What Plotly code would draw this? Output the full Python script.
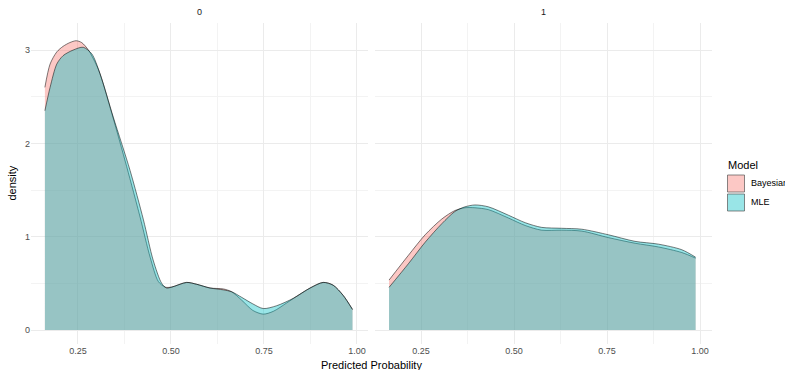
import plotly.graph_objects as go
from plotly.subplots import make_subplots

# ---- data ----
facets = ["0", "1"]
models = ["Bayesian", "MLE"]

x0_bayes = [0.161,0.175,0.193,0.210,0.228,0.245,0.260,0.278,0.305,0.341,0.381,0.417,0.444,0.466,0.484,0.502,0.542,0.569,0.605,0.641,0.663,0.690,0.720,0.748,0.775,0.811,0.845,0.874,0.909,0.936,0.963,0.988]
d0_bayes = [2.60,2.85,2.98,3.04,3.08,3.10,3.08,3.00,2.79,2.32,1.75,1.21,0.78,0.52,0.46,0.46,0.51,0.49,0.45,0.44,0.41,0.32,0.21,0.17,0.20,0.29,0.38,0.45,0.51,0.48,0.37,0.22]

x0_mle = [0.161,0.175,0.193,0.210,0.237,0.264,0.287,0.309,0.345,0.390,0.426,0.452,0.475,0.488,0.502,0.542,0.569,0.605,0.641,0.663,0.690,0.720,0.748,0.784,0.829,0.874,0.909,0.936,0.963,0.988]
d0_mle = [2.35,2.60,2.85,2.94,3.00,3.03,2.96,2.75,2.28,1.71,1.18,0.75,0.50,0.45,0.46,0.51,0.49,0.45,0.43,0.41,0.35,0.28,0.23,0.26,0.34,0.45,0.51,0.48,0.37,0.22]

x1_bayes = [0.164,0.216,0.261,0.306,0.341,0.368,0.395,0.431,0.485,0.530,0.574,0.628,0.682,0.754,0.825,0.888,0.951,0.988]
d1_bayes = [0.535,0.80,1.02,1.19,1.28,1.31,1.31,1.29,1.20,1.12,1.07,1.07,1.06,0.99,0.93,0.89,0.83,0.77]

x1_mle = [0.164,0.216,0.261,0.306,0.341,0.368,0.395,0.431,0.485,0.530,0.574,0.628,0.682,0.754,0.825,0.888,0.951,0.988]
d1_mle = [0.457,0.71,0.94,1.14,1.27,1.32,1.34,1.32,1.23,1.15,1.10,1.09,1.08,1.02,0.95,0.92,0.86,0.78]

x_ticks = [0.25, 0.50, 0.75, 1.00]
x_ticklabels = ["0.25", "0.50", "0.75", "1.00"]
y_ticks = [0, 1, 2, 3]

# ---- styling ----
W, H = 785, 370
FONT = "Liberation Sans, Arial, sans-serif"
fills = {"Bayesian": "rgba(248,118,109,0.4)", "MLE": "rgba(0,191,196,0.4)"}

series = {
    (0, "Bayesian"): (x0_bayes, d0_bayes),
    (0, "MLE"): (x0_mle, d0_mle),
    (1, "Bayesian"): (x1_bayes, d1_bayes),
    (1, "MLE"): (x1_mle, d1_mle),
}

fig = make_subplots(rows=1, cols=2, shared_yaxes=True, horizontal_spacing=0.01)

for p in range(2):
    for m in models:
        xs, ds = series[(p, m)]
        fig.add_trace(go.Scatter(
            x=xs, y=ds, mode="lines", fill="tozeroy", fillcolor=fills[m],
            line=dict(color="rgba(0,0,0,0.85)", width=0.6, shape="spline", smoothing=0.8),
            name=m, showlegend=False, hoverinfo="skip"), row=1, col=p + 1)

def px_x(v):
    return v / W

def px_y(v):
    return 1 - v / H

ydom = [px_y(344), px_y(23)]
fig.update_layout(
    width=W, height=H, margin=dict(l=0, r=0, t=0, b=0),
    paper_bgcolor="white", plot_bgcolor="white",
    font=dict(family=FONT, size=9, color="#4D4D4D"),
    xaxis=dict(domain=[px_x(31), px_x(368)], range=[0.1237, 1.0296]),
    xaxis2=dict(domain=[px_x(375), px_x(712)], range=[0.1263, 1.032]),
    yaxis=dict(domain=ydom, range=[-0.150, 3.29]),
    yaxis2=dict(domain=ydom, range=[-0.150, 3.29]),
)

for ax in ["xaxis", "xaxis2"]:
    fig.layout[ax].update(
        tickvals=x_ticks, ticktext=x_ticklabels, showgrid=True, gridcolor="#EBEBEB", gridwidth=1,
        zeroline=False, showline=False, ticks="",
        tickfont=dict(size=9, color="#4D4D4D"),
        minor=dict(tickvals=[0.125, 0.375, 0.625, 0.875], showgrid=True, gridcolor="#F3F3F3", gridwidth=0.6))
for ax in ["yaxis", "yaxis2"]:
    fig.layout[ax].update(
        tickvals=y_ticks, showgrid=True, gridcolor="#EBEBEB", gridwidth=1,
        zeroline=False, showline=False, ticks="", tickfont=dict(size=9, color="#4D4D4D"),
        minor=dict(tickvals=[0.5, 1.5, 2.5], showgrid=True, gridcolor="#F3F3F3", gridwidth=0.6))
fig.layout.yaxis2.showticklabels = False

def label(text, cx, cy, size, color, xanchor="center", angle=0):
    fig.add_annotation(x=px_x(cx), y=px_y(cy), xref="paper", yref="paper", text=text,
                       xanchor=xanchor, yanchor="middle", textangle=angle, showarrow=False,
                       font=dict(size=size, color=color, family=FONT))

# facet strip labels
for lab, cx in zip(facets, [199.5, 543.5]):
    label(lab, cx, 12, 9, "#1A1A1A")

# axis titles
label("Predicted Probability", 371.5, 365, 11, "black")
label("density", 12, 183.5, 11, "black", angle=-90)

# legend (drawn manually to match ggplot's layout)
label("Model", 726, 165, 11, "black", xanchor="left")
for j, m in enumerate(models):
    top = 175 + j * 19
    fig.add_shape(type="rect", xref="paper", yref="paper",
                  x0=px_x(727.5), x1=px_x(744.5), y0=px_y(top + 17), y1=px_y(top),
                  fillcolor=fills[m], line=dict(color="#555555", width=0.7))
    label(m, 749, top + 8.5, 9, "black", xanchor="left")

fig.write_html("out.html")
